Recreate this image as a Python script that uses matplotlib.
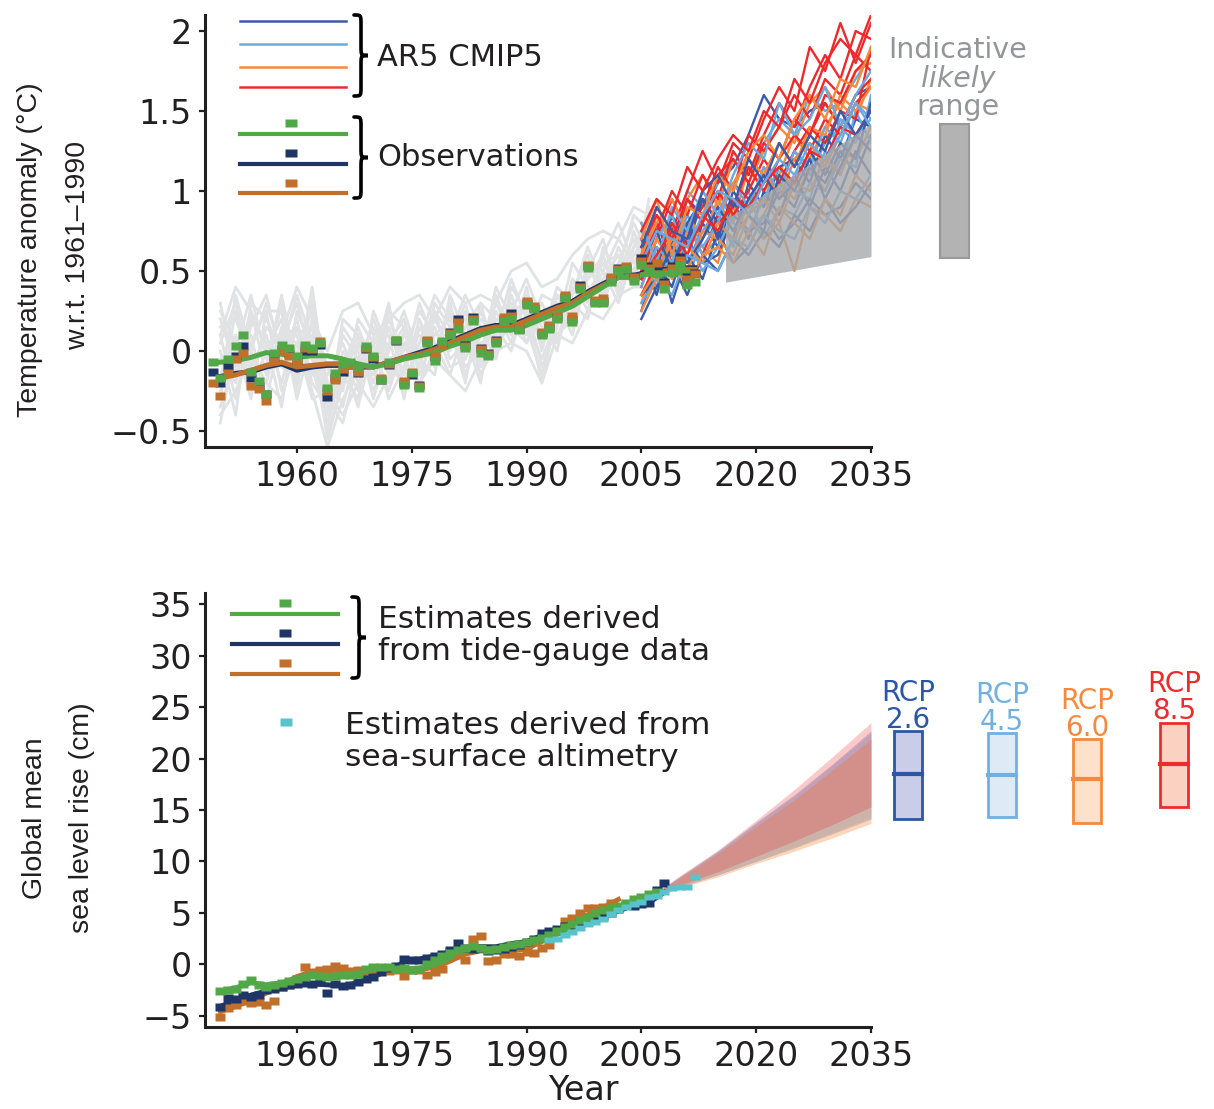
import numpy as np
import matplotlib
matplotlib.use("Agg")
import matplotlib.pyplot as plt
from matplotlib.path import Path
from matplotlib.patches import PathPatch, Rectangle
from matplotlib.lines import Line2D
from matplotlib.transforms import Affine2D, blended_transform_factory
from matplotlib import font_manager

# ---------------- data: temperature panel ----------------
obs_years = np.arange(1949, 2013)
# annual observations (deg C w.r.t. 1961-1990)
green_t = [-0.07,
           -0.17, -0.05, 0.03, 0.10, -0.13, -0.19, -0.27, -0.01, 0.04, 0.02,
           -0.03, 0.04, 0.02, 0.05, -0.23, -0.14, -0.08, -0.07, -0.10, 0.03,
           -0.03, -0.18, -0.07, 0.07, -0.21, -0.14, -0.23, 0.05, -0.06, 0.06,
           0.10, 0.14, 0.02, 0.19, -0.01, -0.03, 0.05, 0.19, 0.20, 0.13,
           0.29, 0.26, 0.10, 0.14, 0.20, 0.33, 0.18, 0.39, 0.52, 0.30,
           0.30, 0.43, 0.50, 0.51, 0.44, 0.54, 0.50, 0.48, 0.39, 0.49,
           0.54, 0.41, 0.43]
navy_t = [-0.13,
          -0.20, -0.10, -0.03, 0.03, -0.17, -0.22, -0.27, -0.04, 0.01, -0.02,
          -0.06, 0.00, 0.00, 0.04, -0.29, -0.17, -0.13, -0.09, -0.14, 0.01,
          -0.05, -0.18, -0.09, 0.06, -0.20, -0.15, -0.21, 0.06, -0.04, 0.05,
          0.12, 0.20, 0.04, 0.21, 0.02, -0.01, 0.07, 0.20, 0.24, 0.14,
          0.30, 0.27, 0.11, 0.15, 0.21, 0.34, 0.20, 0.41, 0.53, 0.31,
          0.31, 0.45, 0.52, 0.52, 0.47, 0.58, 0.53, 0.53, 0.43, 0.53,
          0.59, 0.46, 0.49]
brown_t = [-0.20,
           -0.28, -0.14, -0.05, -0.01, -0.22, -0.24, -0.31, -0.06, 0.00, -0.03,
           -0.07, 0.02, 0.01, 0.06, -0.25, -0.18, -0.11, -0.09, -0.13, 0.02,
           -0.04, -0.17, -0.08, 0.07, -0.19, -0.13, -0.22, 0.07, -0.03, 0.04,
           0.11, 0.18, 0.03, 0.20, 0.01, -0.02, 0.06, 0.21, 0.22, 0.15,
           0.31, 0.28, 0.12, 0.16, 0.22, 0.35, 0.22, 0.40, 0.54, 0.32,
           0.33, 0.46, 0.51, 0.53, 0.46, 0.56, 0.52, 0.55, 0.42, 0.52,
           0.57, 0.45, 0.48]

# smoothed observations
smooth_years = np.arange(1950, 2013, 2)
green_smooth = [-0.07, -0.06, -0.04, -0.01, -0.02, -0.04, -0.03, -0.03, -0.05, -0.08,
                -0.10, -0.08, -0.05, -0.03, -0.01, 0.03, 0.06, 0.10, 0.13, 0.13,
                0.16, 0.20, 0.24, 0.28, 0.34, 0.40, 0.46, 0.47, 0.48, 0.48, 0.49, 0.49]
navy_smooth = [-0.16, -0.14, -0.13, -0.10, -0.08, -0.12, -0.10, -0.09, -0.09, -0.10,
               -0.10, -0.07, -0.04, -0.01, 0.02, 0.06, 0.10, 0.14, 0.16, 0.16,
               0.20, 0.24, 0.28, 0.31, 0.37, 0.42, 0.47, 0.47, 0.50, 0.51, 0.52, 0.52]
brown_smooth = [-0.17, -0.15, -0.12, -0.09, -0.07, -0.10, -0.09, -0.08, -0.08, -0.09,
                -0.10, -0.07, -0.04, -0.02, 0.01, 0.05, 0.09, 0.13, 0.15, 0.15,
                0.19, 0.23, 0.27, 0.30, 0.36, 0.41, 0.46, 0.46, 0.49, 0.50, 0.51, 0.51]

# CMIP5 historical runs (every second year)
hist_years = np.arange(1950, 2007, 2)
hist_01 = [-0.15, 0.10, -0.20, 0.15, 0.05, 0.30, -0.05, -0.40, -0.05, -0.25, 0.10, -0.15, 0.12, -0.10, 0.20,
           0.00, 0.25, -0.10, 0.25, 0.05, 0.40, 0.00, 0.35, 0.15, 0.55, 0.35, 0.65, 0.45, 0.70]
hist_02 = [0.20, -0.10, 0.25, -0.15, 0.30, -0.20, 0.20, -0.10, -0.35, 0.05, -0.20, 0.15, -0.15, 0.20, -0.05,
           0.30, -0.05, 0.15, -0.05, 0.35, 0.10, 0.20, 0.05, 0.45, 0.25, 0.60, 0.35, 0.75, 0.50]
hist_03 = [-0.35, -0.05, 0.10, -0.30, 0.10, 0.05, 0.25, -0.55, -0.20, 0.10, -0.30, 0.05, 0.20, -0.15, 0.10,
           0.20, -0.10, 0.00, 0.30, 0.10, 0.15, -0.15, 0.30, 0.20, 0.45, 0.55, 0.40, 0.65, 0.85]
hist_04 = [0.05, 0.30, -0.10, 0.10, -0.20, 0.15, -0.15, -0.15, 0.05, -0.20, 0.00, -0.25, 0.05, 0.10, -0.10,
           0.15, 0.20, -0.15, 0.05, 0.25, 0.30, 0.10, 0.05, 0.35, 0.60, 0.30, 0.55, 0.40, 0.55]
hist_05 = [-0.25, 0.00, 0.35, -0.05, -0.10, -0.15, 0.40, -0.30, -0.45, -0.05, 0.15, -0.10, -0.20, 0.05, 0.25,
           -0.05, 0.05, 0.20, 0.10, 0.45, 0.20, -0.05, 0.20, 0.40, 0.30, 0.50, 0.70, 0.55, 0.60]
hist_06 = [0.10, -0.30, 0.05, 0.25, -0.25, 0.00, -0.10, -0.45, -0.10, 0.15, -0.10, 0.20, -0.05, -0.20, 0.00,
           0.25, -0.15, 0.10, 0.15, 0.00, 0.35, 0.15, 0.10, 0.25, 0.35, 0.45, 0.60, 0.50, 0.90]
hist_07 = [-0.45, 0.05, -0.25, 0.00, 0.20, -0.30, 0.10, -0.25, -0.05, -0.35, 0.05, 0.10, -0.30, 0.15, 0.00,
           0.05, 0.30, -0.05, 0.20, 0.15, 0.05, 0.25, 0.25, 0.15, 0.50, 0.40, 0.50, 0.70, 0.45]
hist_08 = [0.15, 0.20, -0.05, -0.20, 0.15, 0.10, -0.25, -0.60, -0.30, -0.10, -0.05, -0.20, 0.10, 0.00, 0.15,
           -0.10, -0.05, 0.25, 0.00, 0.20, 0.25, 0.05, 0.35, 0.30, 0.20, 0.65, 0.45, 0.60, 0.65]
hist_09 = [-0.05, -0.20, 0.20, 0.05, -0.35, 0.25, 0.00, -0.35, 0.15, 0.00, -0.25, 0.00, 0.25, -0.05, -0.15,
           0.35, 0.10, -0.20, 0.35, 0.10, 0.30, -0.10, 0.15, 0.55, 0.40, 0.35, 0.55, 0.80, 0.60]
hist_10 = [-0.20, 0.35, 0.00, 0.30, 0.00, -0.05, 0.15, -0.50, 0.00, -0.15, 0.20, -0.05, 0.00, 0.25, 0.10,
           0.10, 0.00, 0.05, 0.10, 0.30, 0.05, 0.30, 0.10, 0.20, 0.55, 0.50, 0.30, 0.60, 0.75]
hist_11 = [0.30, -0.15, 0.15, 0.35, -0.05, 0.20, -0.20, -0.35, 0.10, -0.05, -0.15, 0.25, 0.15, -0.10, 0.30,
           0.15, -0.20, 0.30, 0.20, 0.15, 0.20, 0.10, 0.40, 0.30, 0.45, 0.60, 0.80, 0.55, 0.70]
hist_12 = [-0.30, 0.25, -0.15, -0.10, 0.35, -0.10, 0.30, -0.20, -0.25, 0.20, 0.05, -0.30, -0.10, 0.30, 0.05,
           -0.15, 0.15, 0.30, -0.05, 0.40, 0.25, -0.20, 0.25, 0.35, 0.65, 0.40, 0.50, 0.85, 0.75]
hist_13 = [0.00, -0.40, 0.30, 0.20, 0.00, 0.35, 0.05, -0.55, -0.15, -0.30, 0.25, 0.00, 0.15, -0.25, 0.25,
           0.10, 0.35, 0.15, 0.05, 0.25, 0.45, 0.20, 0.00, 0.45, 0.35, 0.55, 0.60, 0.45, 0.95]
hist_14 = [0.25, 0.05, -0.30, 0.25, 0.25, -0.25, 0.35, -0.40, 0.20, 0.10, -0.05, 0.30, -0.25, 0.05, 0.35,
           0.20, 0.05, -0.05, 0.40, 0.20, 0.10, 0.35, 0.30, 0.10, 0.50, 0.70, 0.35, 0.65, 0.80]
hist_15 = [-0.40, -0.25, 0.00, -0.20, -0.30, 0.05, -0.30, -0.25, -0.40, -0.20, -0.35, -0.15, 0.05, -0.20, -0.05,
           -0.15, -0.25, -0.05, 0.00, 0.05, 0.00, -0.20, 0.10, 0.05, 0.25, 0.20, 0.35, 0.40, 0.40]
hist_16 = [0.10, 0.40, 0.25, 0.00, 0.10, 0.40, 0.20, 0.00, 0.25, 0.30, 0.10, 0.20, 0.30, 0.35, 0.20,
           0.40, 0.30, 0.35, 0.30, 0.50, 0.55, 0.40, 0.45, 0.60, 0.70, 0.75, 0.70, 0.90, 0.85]
hist_runs = [hist_01, hist_02, hist_03, hist_04, hist_05, hist_06, hist_07, hist_08,
             hist_09, hist_10, hist_11, hist_12, hist_13, hist_14, hist_15, hist_16]

# RCP projections (every second year)
proj_years = np.arange(2005, 2036, 2)
rcp26_runs = [
    [0.45, 0.80, 0.60, 0.95, 0.85, 1.05, 1.15, 1.35, 1.60, 1.45, 1.40, 1.50, 1.55, 1.40, 1.60, 1.65],
    [0.60, 0.35, 0.70, 0.50, 0.80, 0.65, 0.95, 0.70, 1.00, 0.85, 1.10, 0.90, 1.15, 1.00, 1.25, 1.10],
    [0.25, 0.55, 0.40, 0.70, 0.55, 0.60, 0.85, 0.75, 0.80, 1.00, 0.90, 1.15, 1.05, 1.25, 1.10, 1.35],
    [0.70, 0.50, 0.85, 0.65, 0.95, 0.80, 0.70, 1.05, 0.90, 1.15, 1.20, 1.05, 1.35, 1.20, 1.45, 1.40],
    [0.50, 0.65, 0.30, 0.60, 0.45, 0.75, 0.55, 0.65, 0.85, 0.70, 0.80, 0.95, 0.85, 0.90, 1.05, 0.95],
    [0.35, 0.45, 0.65, 0.55, 0.70, 0.90, 0.75, 0.95, 1.10, 0.95, 1.05, 1.25, 1.10, 1.30, 1.20, 1.55],
    [0.55, 0.75, 0.50, 0.80, 0.95, 0.70, 1.00, 0.85, 0.75, 1.10, 1.00, 1.20, 0.95, 1.15, 1.35, 1.25],
    [0.20, 0.40, 0.55, 0.35, 0.60, 0.50, 0.70, 0.60, 0.75, 0.65, 0.85, 0.75, 0.95, 0.80, 0.90, 1.05],
    [0.65, 0.90, 0.75, 0.70, 1.00, 1.10, 0.90, 1.20, 1.05, 1.30, 1.15, 1.35, 1.25, 1.50, 1.35, 1.50]]
rcp45_runs = [
    [0.55, 0.85, 0.65, 1.00, 0.90, 1.05, 1.20, 1.10, 1.30, 1.45, 1.35, 1.60, 1.50, 1.55, 1.70, 1.85],
    [0.35, 0.50, 0.60, 0.45, 0.70, 0.85, 0.65, 0.95, 0.90, 1.05, 1.25, 1.10, 1.30, 1.40, 1.30, 1.55],
    [0.75, 0.60, 0.50, 0.80, 0.60, 0.70, 0.95, 0.85, 1.10, 0.95, 1.10, 1.20, 1.15, 1.45, 1.35, 1.45],
    [0.45, 0.70, 0.85, 0.55, 0.75, 0.90, 0.80, 0.75, 0.95, 1.15, 1.00, 0.95, 1.25, 1.10, 1.50, 1.30],
    [0.60, 0.40, 0.75, 0.70, 0.50, 0.65, 0.85, 1.00, 0.70, 0.90, 0.85, 1.05, 1.00, 1.20, 1.15, 1.60],
    [0.40, 0.65, 0.55, 0.85, 0.65, 0.80, 1.05, 0.90, 1.15, 1.00, 1.25, 1.15, 1.40, 1.30, 1.55, 1.45],
    [0.80, 0.55, 0.90, 0.75, 1.00, 0.85, 1.10, 1.30, 1.20, 1.55, 1.35, 1.45, 1.65, 1.40, 1.60, 1.75],
    [0.30, 0.45, 0.35, 0.60, 0.55, 0.50, 0.70, 0.65, 0.85, 0.75, 0.70, 0.90, 0.80, 1.00, 0.95, 1.10],
    [0.55, 0.75, 0.70, 0.65, 0.85, 1.00, 0.95, 0.85, 1.05, 1.20, 1.10, 1.30, 1.20, 1.35, 1.55, 1.40]]
rcp60_runs = [
    [0.50, 0.85, 0.70, 0.95, 1.10, 0.90, 1.20, 1.05, 1.25, 1.40, 1.30, 1.55, 1.65, 1.50, 1.75, 1.80],
    [0.65, 0.45, 0.80, 0.60, 0.85, 1.00, 0.80, 1.15, 1.00, 1.10, 1.35, 1.20, 1.40, 1.55, 1.45, 1.70],
    [0.30, 0.60, 0.45, 0.75, 0.65, 0.55, 0.90, 0.75, 0.85, 1.05, 0.95, 1.15, 1.00, 1.25, 1.20, 1.40],
    [0.80, 0.55, 0.65, 0.85, 0.70, 0.95, 0.75, 0.90, 1.15, 0.95, 1.20, 1.30, 1.15, 1.35, 1.55, 1.50],
    [0.45, 0.70, 0.55, 0.50, 0.75, 0.70, 0.60, 0.85, 0.70, 0.80, 0.50, 0.90, 0.85, 0.75, 0.95, 0.90],
    [0.60, 0.80, 0.95, 0.75, 1.00, 0.85, 1.05, 1.20, 1.10, 1.30, 1.15, 1.40, 1.35, 1.60, 1.50, 1.65],
    [0.35, 0.50, 0.70, 0.65, 0.55, 0.80, 0.70, 0.85, 0.95, 0.80, 1.05, 1.00, 1.20, 1.10, 1.35, 1.25],
    [0.70, 0.95, 0.60, 0.90, 0.85, 1.10, 1.00, 1.25, 1.35, 1.20, 1.45, 1.60, 1.45, 1.70, 1.65, 1.90],
    [0.25, 0.45, 0.55, 0.40, 0.60, 0.65, 0.55, 0.75, 0.60, 0.90, 0.80, 0.70, 0.95, 0.85, 1.10, 1.00]]
rcp85_runs = [
    [0.60, 0.90, 0.75, 1.00, 1.25, 1.05, 1.30, 1.20, 1.45, 1.65, 1.50, 1.90, 1.75, 2.05, 1.80, 2.05],
    [0.40, 0.70, 0.95, 0.75, 0.90, 1.15, 1.00, 1.35, 1.25, 1.40, 1.60, 1.45, 1.70, 1.60, 1.85, 1.75],
    [0.70, 0.50, 0.65, 0.80, 0.60, 0.85, 1.05, 0.95, 1.10, 1.30, 1.15, 1.35, 1.55, 1.40, 1.60, 1.70],
    [0.55, 0.80, 0.55, 0.70, 0.95, 0.80, 0.90, 1.15, 1.00, 1.20, 1.35, 1.25, 1.45, 1.35, 1.55, 1.65],
    [0.35, 0.55, 0.80, 0.65, 0.80, 1.00, 0.85, 1.00, 1.20, 1.05, 1.25, 1.40, 1.30, 1.50, 1.45, 1.90],
    [0.50, 0.75, 1.00, 0.85, 1.10, 0.95, 1.25, 1.10, 1.35, 1.55, 1.40, 1.65, 1.85, 1.70, 2.00, 1.95],
    [0.65, 0.85, 0.70, 0.95, 0.80, 1.10, 1.20, 1.05, 1.30, 1.20, 1.45, 1.35, 1.60, 1.55, 1.75, 1.85],
    [0.45, 0.60, 0.75, 0.60, 0.85, 0.75, 0.95, 0.90, 1.05, 1.15, 1.05, 1.25, 1.20, 1.40, 1.35, 1.50],
    [0.75, 0.95, 0.85, 1.15, 1.00, 1.20, 1.35, 1.25, 1.50, 1.40, 1.70, 1.55, 1.80, 1.95, 1.85, 2.10]]

# indicative likely range
range_years = [2016, 2035]
range_low = [0.43, 0.59]
range_high = [0.82, 1.42]
bar_low, bar_high = 0.58, 1.42

# ---------------- data: sea level panel ----------------
green_sl_years = np.arange(1950, 2008)
green_sl = [-2.6, -2.5, -2.4, -1.9, -1.5, -2.0, -2.2, -2.0, -1.8, -1.6,
            -1.4, -1.2, -1.0, -1.1, -1.2, -1.1, -1.0, -1.0, -0.9, -0.5,
            -0.3, -0.3, -0.3, -0.5, -0.4, -0.6, -0.5, 0.0, 0.4, 0.8,
            1.1, 1.4, 1.6, 1.8, 1.6, 1.4, 1.5, 1.7, 1.9, 2.0,
            2.2, 2.4, 2.6, 2.8, 3.2, 3.6, 3.9, 4.3, 4.6, 5.0,
            5.3, 5.5, 5.7, 6.0, 6.3, 6.5, 6.8, 7.0]
navy_sl_years = np.arange(1950, 2009)
navy_sl = [-4.2, -3.3, -3.4, -3.0, -3.2, -3.0, -2.5, -2.4, -2.2, -2.0,
           -1.9, -1.8, -1.9, -1.7, -2.8, -1.9, -2.1, -2.0, -1.7, -1.4,
           -1.2, -0.8, -0.4, -0.2, 0.5, 0.4, 0.4, 0.6, 0.8, 1.0,
           1.4, 2.1, 1.6, 1.5, 1.6, 1.3, 1.4, 1.5, 1.7, 1.9,
           2.2, 2.5, 3.0, 3.2, 3.4, 3.7, 3.8, 4.0, 4.2, 4.5,
           4.7, 5.0, 5.4, 5.8, 5.7, 5.9, 6.0, 7.2, 7.9]
brown_sl_years = np.arange(1950, 2002)
brown_sl = [-5.1, -4.3, -4.0, -3.6, -3.8, -3.7, -4.0, -3.6, -2.2, -2.0,
            -1.4, -0.3, -0.8, -0.6, -0.5, -0.2, -0.4, -0.7, -0.6, -0.9,
            -0.7, -0.4, -0.7, -0.6, -1.1, -0.6, -0.6, -1.0, -0.8, -0.5,
            1.2, 0.9, 0.4, 2.5, 2.7, 0.3, 0.4, 1.0, 1.0, 0.8,
            1.2, 1.1, 1.6, 1.9, 3.2, 4.2, 4.5, 5.0, 5.5, 5.5,
            5.6, 6.0]
cyan_sl_years = np.arange(1993, 2013)
cyan_sl = [2.4, 2.5, 2.8, 3.1, 3.5, 3.9, 4.1, 4.4, 4.9, 5.3,
           5.6, 5.9, 6.1, 6.5, 6.6, 7.0, 7.4, 7.5, 7.5, 8.5]

green_sl_line_years = np.arange(1950, 2007, 2)
green_sl_line = [-2.6, -2.3, -1.8, -2.0, -1.8, -1.4, -1.1, -1.1, -1.0, -0.9,
                 -0.5, -0.4, -0.5, -0.4, -0.1, 0.6, 1.3, 1.5, 1.5, 1.8,
                 2.1, 2.5, 2.9, 3.6, 4.3, 5.0, 5.5, 6.0, 6.6]
navy_sl_line_years = np.arange(1950, 2009, 2)
navy_sl_line = [-4.1, -3.5, -3.0, -2.6, -2.3, -2.0, -1.9, -2.0, -2.1, -1.8,
                -1.2, -0.6, 0.2, 0.5, 0.8, 1.2, 1.6, 1.7, 1.7, 2.0,
                2.2, 2.8, 3.3, 3.7, 4.1, 4.6, 5.2, 5.7, 6.0, 7.0]
brown_sl_line_years = np.arange(1950, 2003, 2)
brown_sl_line = [-4.6, -4.1, -3.5, -2.8, -2.0, -1.2, -0.7, -0.6, -0.6, -0.6,
                 -0.6, -0.6, -0.6, -0.5, -0.3, 0.3, 1.0, 1.3, 1.3, 1.3,
                 1.5, 2.2, 3.1, 4.0, 4.8, 5.5, 6.3]

# projected sea level ranges per RCP
sl_proj_years = [2007, 2010, 2015, 2020, 2025, 2030, 2035]
rcp_names = ["2.6", "4.5", "6.0", "8.5"]
sl_low = {"2.6": [6.6, 7.5, 8.7, 10.0, 11.3, 12.7, 14.1],
          "4.5": [6.6, 7.5, 8.7, 10.0, 11.4, 12.8, 14.3],
          "6.0": [6.5, 7.4, 8.5, 9.8, 11.0, 12.3, 13.7],
          "8.5": [6.7, 7.7, 9.0, 10.5, 12.0, 13.6, 15.3]}
sl_high = {"2.6": [7.0, 8.5, 11.0, 13.8, 16.5, 19.5, 22.7],
           "4.5": [7.0, 8.5, 11.0, 13.7, 16.4, 19.4, 22.5],
           "6.0": [7.0, 8.4, 10.8, 13.4, 16.0, 18.9, 21.9],
           "8.5": [7.0, 8.6, 11.1, 14.0, 17.0, 20.2, 23.5]}
box_low = [14.1, 14.3, 13.7, 15.3]
box_mid = [18.5, 18.4, 18.0, 19.5]
box_high = [22.7, 22.5, 21.9, 23.5]

# ---------------- styling ----------------
W, H = 1214, 1109
TXT = "#231f20"
GREEN, NAVY, BROWN, CYAN = "#52a846", "#1f3566", "#c1702b", "#58c3cb"
RCP_LINE = ["#3c5aa8", "#6aaae0", "#f68a3c", "#ec2a2e"]
RCP_EDGE = ["#2b57a5", "#72b0e0", "#f6893b", "#ec2b2d"]
RCP_FILL = ["#c9cde7", "#deebf7", "#fde1cb", "#fbd1c1"]
FAN_ALPHA = [0.25, 0.25, 0.35, 0.25]

names = {f.name for f in font_manager.fontManager.ttflist}
if "Liberation Sans Narrow" in names:
    ylab_font, ylab_size = "Liberation Sans Narrow", 23.5
else:
    ylab_font, ylab_size = "Liberation Sans", 20.5

wide_sq = Path([(-1.3, -1), (1.3, -1), (1.3, 1), (-1.3, 1), (-1.3, -1)],
               [Path.MOVETO, Path.LINETO, Path.LINETO, Path.LINETO, Path.CLOSEPOLY])

fig = plt.figure(figsize=(W / 100, H / 100), dpi=100)
px = Affine2D().scale(1.0 / W, -1.0 / H).translate(0, 1) + fig.transFigure

ax1 = fig.add_axes([205 / W, 1 - 447 / H, 666 / W, 432 / H])
ax2 = fig.add_axes([205 / W, 1 - 1027 / H, 666 / W, 434 / H])


def style_axis(ax):
    for s in ["top", "right"]:
        ax.spines[s].set_visible(False)
    for s in ["left", "bottom"]:
        ax.spines[s].set_linewidth(2.2)
        ax.spines[s].set_color(TXT)
    ax.tick_params(axis="both", direction="out", length=4.5, width=1.6,
                   color=TXT, labelcolor=TXT, labelsize=24, pad=5)
    ax.set_xlim(1948, 2035)
    ax.set_xticks([1960, 1975, 1990, 2005, 2020, 2035])
    ax.set_facecolor("none")


def brace(x, y0, y1, w=14):
    xm, xr = x + w * 0.5, x + w
    ym = (y0 + y1) / 2.0
    r = (y1 - y0) * 0.12
    verts = [(x, y0), (xm, y0), (xm, y0), (xm, y0 + r),
             (xm, ym - r),
             (xm, ym), (xm, ym), (xr, ym),
             (xm, ym), (xm, ym), (xm, ym + r),
             (xm, y1 - r),
             (xm, y1), (xm, y1), (x, y1)]
    C, L = Path.CURVE4, Path.LINETO
    codes = [Path.MOVETO, C, C, C, L, C, C, C, C, C, C, L, C, C, C]
    fig.add_artist(PathPatch(Path(verts, codes), transform=px, fill=False,
                             lw=2.6, color="k", capstyle="round"))


# ---------------- top panel ----------------
style_axis(ax1)
for run in hist_runs:
    ax1.plot(hist_years, run, color="#e1e2e3", lw=2.0, zorder=1)
rcp_sets = list(zip([rcp26_runs, rcp45_runs, rcp60_runs, rcp85_runs], RCP_LINE))
for i in range(9):
    # rotate drawing order so no scenario always sits on top
    order = rcp_sets[i % 4:] + rcp_sets[:i % 4]
    for runs, c in order:
        ax1.plot(proj_years, runs[i], color=c, lw=1.7, zorder=2)
ax1.fill_between(range_years, range_low, range_high, color="#a7a9ac", alpha=0.8,
                 lw=0, zorder=3)

ax1.plot(smooth_years, navy_smooth, color=NAVY, lw=3.6, zorder=4)
ax1.plot(smooth_years, brown_smooth, color=BROWN, lw=3.6, zorder=4)
ax1.plot(smooth_years, green_smooth, color=GREEN, lw=3.6, zorder=4)
for vals, c in [(navy_t, NAVY), (brown_t, BROWN), (green_t, GREEN)]:
    ax1.plot(obs_years, vals, ls="none", marker=wide_sq, ms=7, color=c, mec="none", zorder=5)

ax1.set_ylim(-0.6, 2.1)
ax1.set_yticks([-0.5, 0, 0.5, 1, 1.5, 2])
ax1.set_yticklabels(["\u22120.5", "0", "0.5", "1", "1.5", "2"])

blend1 = blended_transform_factory(px, ax1.transData)
fig.add_artist(Rectangle((940, bar_low), 29, bar_high - bar_low, transform=blend1,
                         fc="#b3b3b3", ec="#999999", lw=1.5))
fig.text(958, 50, "Indicative", transform=px, ha="center", va="center", fontsize=20.5, color="#939598")
fig.text(958, 79, "likely", transform=px, ha="center", va="center", fontsize=20.5,
         color="#939598", style="italic")
fig.text(958, 107, "range", transform=px, ha="center", va="center", fontsize=20.5, color="#939598")

# legend top
for y, c in zip([21, 44, 67, 87], RCP_LINE):
    fig.add_artist(Line2D([240, 346], [y, y], transform=px, color=c, lw=1.8))
for ys, yl, c in [(123, 134, GREEN), (153, 164, NAVY), (183, 193, BROWN)]:
    fig.add_artist(Line2D([240, 346], [yl, yl], transform=px, color=c, lw=3))
    fig.add_artist(Line2D([291], [ys], transform=px, ls="none", marker=wide_sq, ms=8,
                          color=c, mec="none"))
brace(354, 15, 96)
brace(354, 117, 198)
fig.text(377, 57, "AR5 CMIP5", transform=px, va="center", fontsize=22, color=TXT)
fig.text(377, 158, "Observations", transform=px, va="center", fontsize=22, color=TXT)

fig.text(30, 250, "Temperature anomaly (\u00b0C)", transform=px, rotation=90, ha="center",
         va="center", fontsize=ylab_size, family=ylab_font, color=TXT)
fig.text(78, 245, "w.r.t. 1961\u20131990", transform=px, rotation=90, ha="center",
         va="center", fontsize=ylab_size, family=ylab_font, color=TXT)

# ---------------- bottom panel ----------------
style_axis(ax2)
for name, c, a in zip(rcp_names, RCP_LINE, FAN_ALPHA):
    ax2.fill_between(sl_proj_years, sl_low[name], sl_high[name], color=c, alpha=a,
                     lw=0, zorder=1)

for ly, lv, sy, sv, c in [(brown_sl_line_years, brown_sl_line, brown_sl_years, brown_sl, BROWN),
                          (navy_sl_line_years, navy_sl_line, navy_sl_years, navy_sl, NAVY),
                          (green_sl_line_years, green_sl_line, green_sl_years, green_sl, GREEN)]:
    ax2.plot(ly, lv, color=c, lw=3.6, zorder=3)
    ax2.plot(sy, sv, ls="none", marker=wide_sq, ms=7, color=c, mec="none", zorder=4)
ax2.plot(cyan_sl_years, cyan_sl, ls="none", marker=wide_sq, ms=6.5, color=CYAN, mec="none", zorder=5)

ax2.set_ylim(-6.1, 36.1)
ax2.set_yticks(np.arange(-5, 36, 5))
ax2.set_yticklabels(["\u22125"] + [str(v) for v in range(0, 36, 5)])

blend2 = blended_transform_factory(px, ax2.transData)
for cx, name, lo, md, hi, ec, fc in zip([908, 1002, 1087, 1174], rcp_names, box_low, box_mid,
                                        box_high, RCP_EDGE, RCP_FILL):
    fig.add_artist(Rectangle((cx - 14, lo), 28, hi - lo, transform=blend2, fc=fc, ec=ec, lw=2))
    fig.add_artist(Line2D([cx - 14, cx + 14], [md, md], transform=blend2, color=ec, lw=3))
    ax2.annotate("RCP\n" + name, xy=(cx, hi), xycoords=blend2, xytext=(0, -2),
                 textcoords="offset points", ha="center", va="bottom", fontsize=20,
                 color=ec, linespacing=0.95, annotation_clip=False)

# legend bottom
for ys, yl, c in [(603, 614, GREEN), (633, 644, NAVY), (663, 674, BROWN)]:
    fig.add_artist(Line2D([232, 338], [yl, yl], transform=px, color=c, lw=3))
    fig.add_artist(Line2D([285], [ys], transform=px, ls="none", marker=wide_sq, ms=8,
                          color=c, mec="none"))
fig.add_artist(Line2D([286], [722], transform=px, ls="none", marker=wide_sq, ms=8,
                      color=CYAN, mec="none"))
brace(352, 597, 678)
fig.text(378, 619, "Estimates derived", transform=px, va="center", fontsize=22.5, color=TXT)
fig.text(378, 652, "from tide-gauge data", transform=px, va="center", fontsize=22.5, color=TXT)
fig.text(345, 725, "Estimates derived from", transform=px, va="center", fontsize=22.5, color=TXT)
fig.text(345, 758, "sea-surface altimetry", transform=px, va="center", fontsize=22.5, color=TXT)

fig.text(35, 818, "Global mean", transform=px, rotation=90, ha="center", va="center",
         fontsize=ylab_size, family=ylab_font, color=TXT)
fig.text(82, 818, "sea level rise (cm)", transform=px, rotation=90, ha="center", va="center",
         fontsize=ylab_size, family=ylab_font, color=TXT)
fig.text(583, 1090, "Year", transform=px, ha="center", va="center", fontsize=24, color=TXT)

fig.savefig("out.png", dpi=100)
